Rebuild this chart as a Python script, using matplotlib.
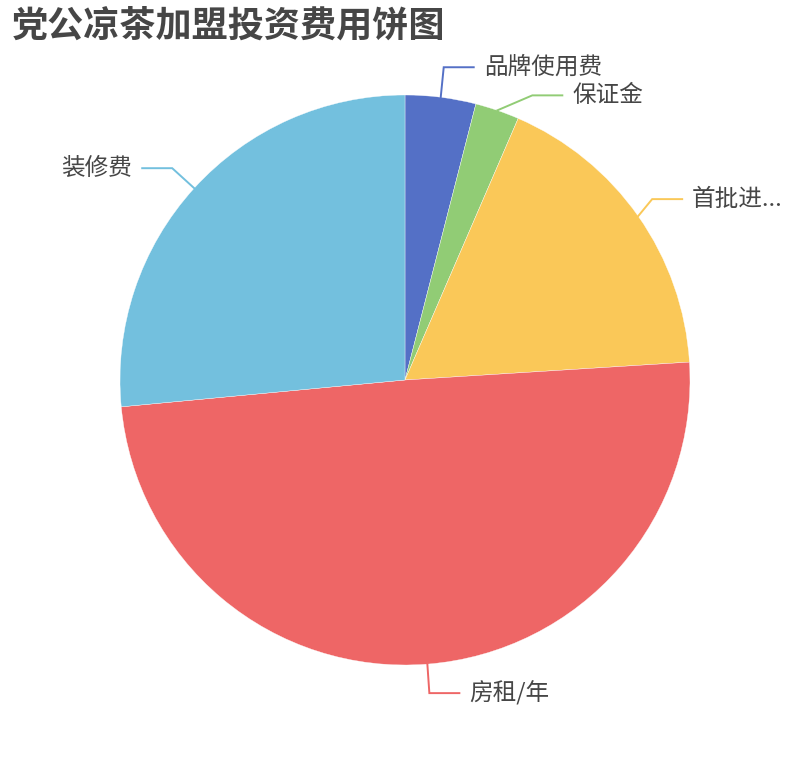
import numpy as np
import matplotlib
matplotlib.use("Agg")
import matplotlib.pyplot as plt

plt.rcParams["font.family"] = ["Noto Sans CJK SC", "DejaVu Sans"]

# ── data (万元) ─────────────────────────────
categories = ["品牌使用费", "保证金", "首批进...", "房租/年", "装修费"]
values = [0.8, 0.5, 3.5, 9.9, 5.3]
colors = ["#5470c6", "#91cc75", "#fac858", "#ee6666", "#73c0de"]
title = "党公凉茶加盟投资费用饼图"

# label-line elbow offsets from the slice edge, in pixels (x right, y down)
elbow_px = [(3, -30), (35, -15), (14, -17), (2, 29), (-22, -20)]
LEN2 = 30          # horizontal segment length, px
PX = 285.0         # pie radius in pixels

W, H = 810, 760
CX, CY = 405, 380  # pie centre, px from top-left

fig = plt.figure(figsize=(W / 100, H / 100), dpi=100)
ax = fig.add_axes([0, 0, 1, 1])

wedges, _ = ax.pie(values, colors=colors, startangle=90, counterclock=False,
                   radius=1.0, center=(0, 0),
                   wedgeprops=dict(linewidth=0.25, edgecolor="white"))
# pie() resets the limits, so set them afterwards
ax.set_xlim(-CX / PX, (W - CX) / PX)
ax.set_ylim(-(H - CY) / PX, CY / PX)
ax.set_aspect("auto")
ax.axis("off")

for w, lab, col, (ox, oy) in zip(wedges, categories, colors, elbow_px):
    mid = np.deg2rad((w.theta1 + w.theta2) / 2)
    x0, y0 = np.cos(mid), np.sin(mid)
    x1, y1 = x0 + ox / PX, y0 - oy / PX
    right = x0 >= 0
    x2 = x1 + (LEN2 / PX if right else -LEN2 / PX)
    ax.plot([x0, x1, x2], [y0, y1, y1], color=col, lw=1.4,
            solid_joinstyle="miter", clip_on=False)
    ax.text(x2 + (10 / PX if right else -10 / PX), y1, lab,
            ha="left" if right else "right", va="center",
            fontsize=17, color="#464646")

fig.text(12 / W, 1 - 26 / H, title, ha="left", va="center",
         fontsize=26, fontweight="bold", color="#464646")

fig.savefig("out.png", dpi=100)
